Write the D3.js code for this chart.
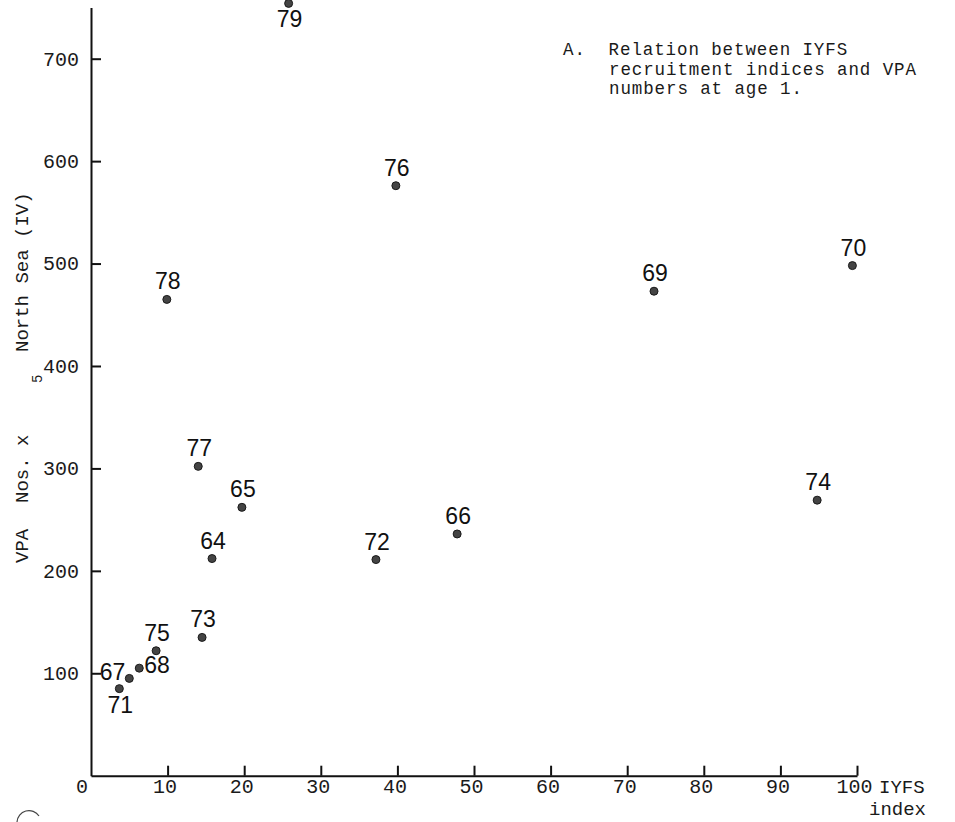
<!DOCTYPE html>
<html>
<head>
<meta charset="utf-8">
<script src="https://cdn.jsdelivr.net/npm/d3@7/dist/d3.min.js"></script>
<style>
  html, body { margin: 0; padding: 0; background: #fff; }
  svg { display: block; }
  .mono { font-family: "Liberation Mono", "DejaVu Sans Mono", monospace; fill: #1a1a1a; }
  .lbl { font-family: "Liberation Sans", Arial, sans-serif; fill: #111; }
</style>
</head>
<body>
<svg id="chart" width="955" height="822"></svg>
<script>
// ---- data ----
const years = ["64","65","66","67","68","69","70","71","72","73","74","75","76","77","78","79"];
const iyfsIndex = [15.8, 19.7, 47.8, 5.0, 6.3, 73.5, 99.4, 3.7, 37.2, 14.5, 94.8, 8.5, 39.8, 14.0, 9.9, 25.8];
const vpaNumbers = [212, 262, 236, 95, 105, 473, 498, 85, 211, 135, 269, 122, 576, 302, 465, 754];
const xTicks = [10, 20, 30, 40, 50, 60, 70, 80, 90, 100];
const yTicks = [100, 200, 300, 400, 500, 600, 700];
const noteLines = ["A.  Relation between IYFS", "recruitment indices and VPA", "numbers at age 1."];
// label placement relative to its dot (default: above)
const labelSide = { "67": "left", "68": "right", "71": "below", "79": "below" };

const points = years.map((yr, i) => ({ yr, x: iyfsIndex[i], y: vpaNumbers[i] }));

const svg = d3.select("#chart");
const W = 955, H = 822;
svg.append("rect").attr("width", W).attr("height", H).attr("fill", "#fff");

const x = d3.scaleLinear().domain([0, 100]).range([91, 857]);
const y = d3.scaleLinear().domain([0, 700]).range([775.7, 58.7]);
const yTop = 750;

// ---- axes ----
const yAxisG = svg.append("g").attr("transform", `translate(${x(0)},0)`);
const yAxis = d3.axisLeft(d3.scaleLinear().domain([0, yTop]).range([y(0), y(yTop)]))
  .tickValues(yTicks).tickSizeInner(-10).tickSizeOuter(0).tickPadding(12)
  .tickFormat(d3.format("d"));
yAxisG.call(yAxis);

const xAxisG = svg.append("g").attr("transform", `translate(0,${y(0)})`);
const xAxis = d3.axisBottom(x)
  .tickValues(xTicks).tickSizeInner(-10).tickSizeOuter(0).tickPadding(8)
  .tickFormat(d3.format("d"));
xAxisG.call(xAxis);

[yAxisG, xAxisG].forEach(g => {
  g.select(".domain").attr("stroke", "#111").attr("stroke-width", 2);
  g.selectAll(".tick line").attr("stroke", "#111").attr("stroke-width", 2);
  g.selectAll(".tick text").attr("class", "mono").attr("font-size", 20).attr("fill", "#1a1a1a");
});
xAxisG.selectAll(".tick text").attr("dy", null).attr("y", 17).attr("dx", -3);

// origin label
svg.append("text").attr("class", "mono").attr("font-size", 20)
  .attr("x", x(0) - 9).attr("y", y(0) + 17).attr("text-anchor", "middle").text("0");

// x-axis title
svg.append("text").attr("class", "mono").attr("font-size", 19)
  .attr("x", x(100) + 22).attr("y", y(0) + 17).text("IYFS");
svg.append("text").attr("class", "mono").attr("font-size", 19)
  .attr("x", x(100) + 12).attr("y", y(0) + 39).text("index");

// y-axis title (rotated)
const yt = svg.append("text").attr("class", "mono").attr("font-size", 19)
  .attr("transform", "translate(28,563) rotate(-90)");
yt.append("tspan").attr("x", 0).text("VPA");
yt.append("tspan").attr("x", 60).text("Nos. x");
yt.append("tspan").attr("x", 211).text("North Sea (IV)");
svg.append("text").attr("class", "mono").attr("font-size", 14)
  .attr("transform", "translate(42,383) rotate(-90)").text("5");

// annotation
const note = svg.append("text").attr("class", "mono").attr("font-size", 17.5)
  .attr("letter-spacing", 0.9)
  .attr("xml:space", "preserve").style("white-space", "pre");
noteLines.forEach((t, i) => {
  note.append("tspan").attr("x", i === 0 ? 563 : 609).attr("y", 55 + i * 19.5).text(t);
});

// ---- points ----
svg.append("g").selectAll("circle").data(points).join("circle")
  .attr("cx", d => x(d.x)).attr("cy", d => y(d.y)).attr("r", 4)
  .attr("fill", "#444").attr("stroke", "#1a1a1a").attr("stroke-width", 1);

svg.append("g").selectAll("text").data(points).join("text")
  .attr("class", "lbl").attr("font-size", 23)
  .each(function (d) {
    const side = labelSide[d.yr] || "above";
    const cx = x(d.x), cy = y(d.y);
    const t = d3.select(this);
    if (side === "above") t.attr("x", cx + 1).attr("y", cy - 10).attr("text-anchor", "middle");
    else if (side === "below") t.attr("x", cx + 1).attr("y", cy + 24).attr("text-anchor", "middle");
    else if (side === "left") t.attr("x", cx - 4).attr("y", cy + 2).attr("text-anchor", "end");
    else t.attr("x", cx + 5).attr("y", cy + 5).attr("text-anchor", "start");
  })
  .text(d => d.yr);

// scan mark at bottom-left
svg.append("path").attr("d", "M17,822 A12,12 0 0 1 39,816")
  .attr("fill", "none").attr("stroke", "#444").attr("stroke-width", 1.2);
</script>
</body>
</html>
